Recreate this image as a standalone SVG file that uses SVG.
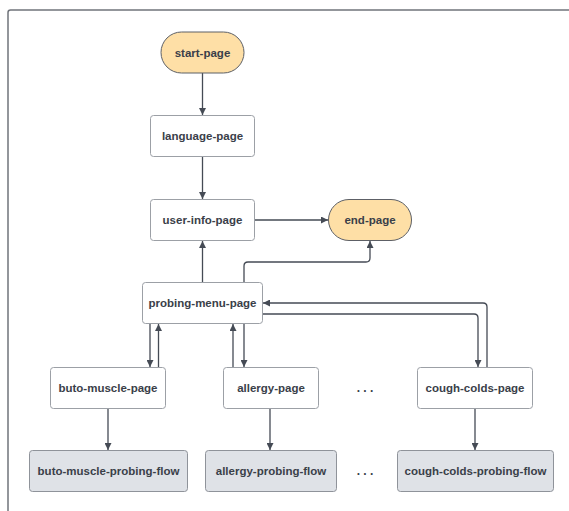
<svg xmlns="http://www.w3.org/2000/svg" width="569" height="511" viewBox="0 0 569 511">
  <style>
    .frame { fill: none; stroke: #70747b; stroke-width: 1.5; }
    .page rect { fill: #ffffff; stroke: #9ca0a6; stroke-width: 1; }
    .flow rect { fill: #dfe2e7; stroke: #8f939a; stroke-width: 1; }
    .term rect { fill: #fedfa6; stroke: #5d6066; stroke-width: 1; }
    text { font-family: "Liberation Sans", Arial, sans-serif; font-weight: bold; font-size: 11.5px; fill: #3a4049; text-anchor: middle; }
    .dots { font-size: 12px; }
    .edges path { fill: none; stroke: #454b55; stroke-width: 1.3; marker-end: url(#arrow); }
  </style>
  <defs>
    <marker id="arrow" viewBox="0 0 10 10" refX="10" refY="5" markerWidth="7" markerHeight="7" markerUnits="userSpaceOnUse" orient="auto">
      <path d="M0 0 L10 5 L0 10 Z" fill="#454b55"/>
    </marker>
  </defs>

  <rect width="569" height="511" fill="#ffffff"/>
  <!-- outer frame -->
  <path class="frame" d="M8 511 V12.5 Q8 10 10.5 10 H569"/>

  <!-- connectors -->
  <g id="connectors" class="edges">
    <path d="M202.5 73 V115"/>
    <path d="M202.5 157 V199"/>
    <path d="M255 220 H328"/>
    <path d="M202.5 282 V241"/>
    <path d="M244 282 V266 Q244 262 248 262 H366 Q370 262 370 258 V241"/>
    <path d="M487 367 V307 Q487 303 483 303 H263"/>
    <path d="M263 314 H474 Q478 314 478 318 V367"/>
    <path d="M150 324 V367"/>
    <path d="M158.5 367 V324"/>
    <path d="M233 367 V324"/>
    <path d="M244 324 V367"/>
    <path d="M108 409 V450"/>
    <path d="M270 409 V450"/>
    <path d="M475 409 V450"/>
  </g>

  <!-- nodes -->
  <g id="start-page" class="term">
    <rect x="161" y="32" width="83" height="41" rx="20.5"/>
    <text x="202.5" y="52.5" dy="0.35em">start-page</text>
  </g>
  <g id="language-page" class="page">
    <rect x="150.5" y="115.5" width="104" height="41" rx="3"/>
    <text x="202.5" y="136" dy="0.35em">language-page</text>
  </g>
  <g id="user-info-page" class="page">
    <rect x="150.5" y="199.5" width="104" height="41" rx="3"/>
    <text x="202.5" y="220" dy="0.35em">user-info-page</text>
  </g>
  <g id="end-page" class="term">
    <rect x="328.5" y="199.5" width="83" height="41" rx="20.5"/>
    <text x="370" y="220" dy="0.35em">end-page</text>
  </g>
  <g id="probing-menu-page" class="page">
    <rect x="142.5" y="282.5" width="120" height="41" rx="3"/>
    <text x="202.5" y="303" dy="0.35em">probing-menu-page</text>
  </g>
  <g id="buto-muscle-page" class="page">
    <rect x="50.5" y="367.5" width="115" height="41" rx="3"/>
    <text x="108" y="388" dy="0.35em">buto-muscle-page</text>
  </g>
  <g id="allergy-page" class="page">
    <rect x="223.5" y="367.5" width="95" height="41" rx="3"/>
    <text x="271" y="388" dy="0.35em">allergy-page</text>
  </g>
  <g id="cough-colds-page" class="page">
    <rect x="417.5" y="367.5" width="115" height="41" rx="3"/>
    <text x="475" y="388" dy="0.35em">cough-colds-page</text>
  </g>
  <g id="buto-muscle-probing-flow" class="flow">
    <rect x="29.5" y="450.5" width="158" height="41" rx="3"/>
    <text x="108.5" y="471" dy="0.35em">buto-muscle-probing-flow</text>
  </g>
  <g id="allergy-probing-flow" class="flow">
    <rect x="205.5" y="450.5" width="131" height="41" rx="3"/>
    <text x="271" y="471" dy="0.35em">allergy-probing-flow</text>
  </g>
  <g id="cough-colds-probing-flow" class="flow">
    <rect x="397.5" y="450.5" width="156" height="41" rx="3"/>
    <text x="475.5" y="471" dy="0.35em">cough-colds-probing-flow</text>
  </g>

  <!-- ellipsis markers between columns -->
  <g id="ellipsis-pages"><text class="dots" x="365" y="388" dy="0.35em">. . .</text></g>
  <g id="ellipsis-flows"><text class="dots" x="365" y="471" dy="0.35em">. . .</text></g>
</svg>
